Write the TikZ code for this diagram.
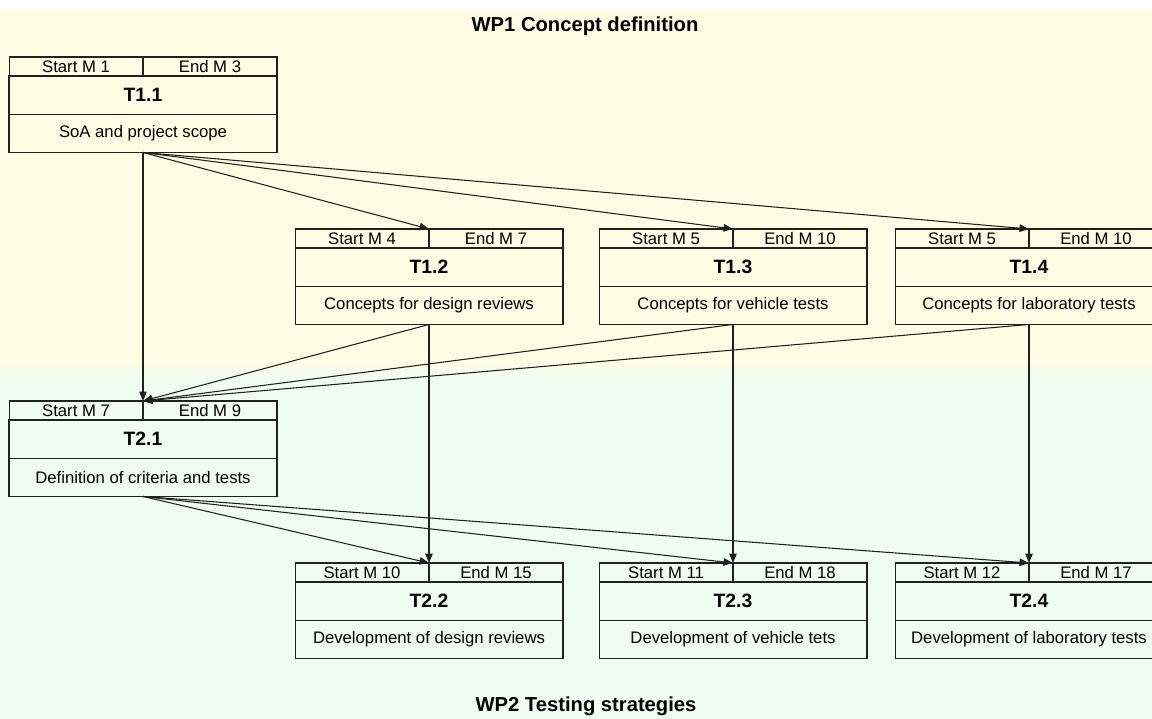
\documentclass[tikz,border=0pt]{standalone}
\usepackage{fontspec}
\setmainfont{Liberation Sans}
\usetikzlibrary{positioning,arrows.meta}

\definecolor{wpyellow}{HTML}{FEFCE3}
\definecolor{wpgreen}{HTML}{EEFCF2}
\definecolor{linegray}{HTML}{202020}

\tikzset{
    hdr/.style={draw=linegray, line width=0.6pt, inner sep=0pt, outer sep=0pt,
        minimum width=2.68cm, minimum height=0.38cm,
        font=\fontsize{9.5}{10}\selectfont},
    ttl/.style={draw=linegray, line width=0.6pt, inner sep=0pt, outer sep=0pt,
        minimum width=5.36cm, minimum height=0.77cm,
        font=\fontsize{11}{12}\selectfont\bfseries},
    dsc/.style={draw=linegray, line width=0.6pt, inner sep=0pt, outer sep=0pt,
        minimum width=5.36cm, minimum height=0.76cm,
        font=\fontsize{9.5}{10}\selectfont},
    link/.style={draw=linegray, line width=0.6pt,
        -{Triangle[length=0.19cm, width=0.15cm]}},
    wptitle/.style={font=\fontsize{11.5}{12}\selectfont\bfseries}
}

% task box: name, x, y, start, end, title, description
\newcommand{\taskbox}[7]{%
    \node[hdr, anchor=north east] (#1s) at (#2,#3) {#4};
    \node[hdr, anchor=north west] (#1e) at (#2,#3) {#5};
    \node[ttl, below=0pt of #1s.south east] (#1) {#6};
    \node[dsc, below=0pt of #1.south] (#1d) {#7};
}

\begin{document}
\begin{tikzpicture}[x=0.02cm, y=-0.02cm]
    \useasboundingbox (0,0) rectangle (1152,719);
    \clip (0,0) rectangle (1152,719);

    % work package bands
    \fill[white] (0,0) rectangle (1152,10);
    \fill[wpyellow] (0,10) rectangle (1152,360);
    \shade[top color=wpyellow, bottom color=wpgreen] (0,360) rectangle (1152,382);
    \fill[wpgreen] (0,382) rectangle (1152,719);

    \node[wptitle] (wp1) at (585,26) {WP1 Concept definition};
    \node[wptitle] (wp2) at (586,706) {WP2 Testing strategies};

    \taskbox{t11}{143}{57}{Start M 1}{End M 3}{T1.1}{SoA and project scope}
    \taskbox{t12}{429}{229}{Start M 4}{End M 7}{T1.2}{Concepts for design reviews}
    \taskbox{t13}{733}{229}{Start M 5}{End M 10}{T1.3}{Concepts for vehicle tests}
    \taskbox{t14}{1029}{229}{Start M 5}{End M 10}{T1.4}{Concepts for laboratory tests}

    \taskbox{t21}{143}{401}{Start M 7}{End M 9}{T2.1}{Definition of criteria and tests}
    \taskbox{t22}{429}{563}{Start M 10}{End M 15}{T2.2}{Development of design reviews}
    \taskbox{t23}{733}{563}{Start M 11}{End M 18}{T2.3}{Development of vehicle tets}
    \taskbox{t24}{1029}{563}{Start M 12}{End M 17}{T2.4}{Development of laboratory tests}

    \draw[link] (t11d.south) -- (t21s.north east);
    \draw[link] (t11d.south) -- (t12s.north east);
    \draw[link] (t11d.south) -- (t13s.north east);
    \draw[link] (t11d.south) -- (t14s.north east);

    \draw[link] (t12d.south) -- (t21s.north east);
    \draw[link] (t13d.south) -- (t21s.north east);
    \draw[link] (t14d.south) -- (t21s.north east);

    \draw[link] (t12d.south) -- (t22s.north east);
    \draw[link] (t13d.south) -- (t23s.north east);
    \draw[link] (t14d.south) -- (t24s.north east);

    \draw[link] (t21d.south) -- (t22s.north east);
    \draw[link] (t21d.south) -- (t23s.north east);
    \draw[link] (t21d.south) -- (t24s.north east);

\end{tikzpicture}
\end{document}
